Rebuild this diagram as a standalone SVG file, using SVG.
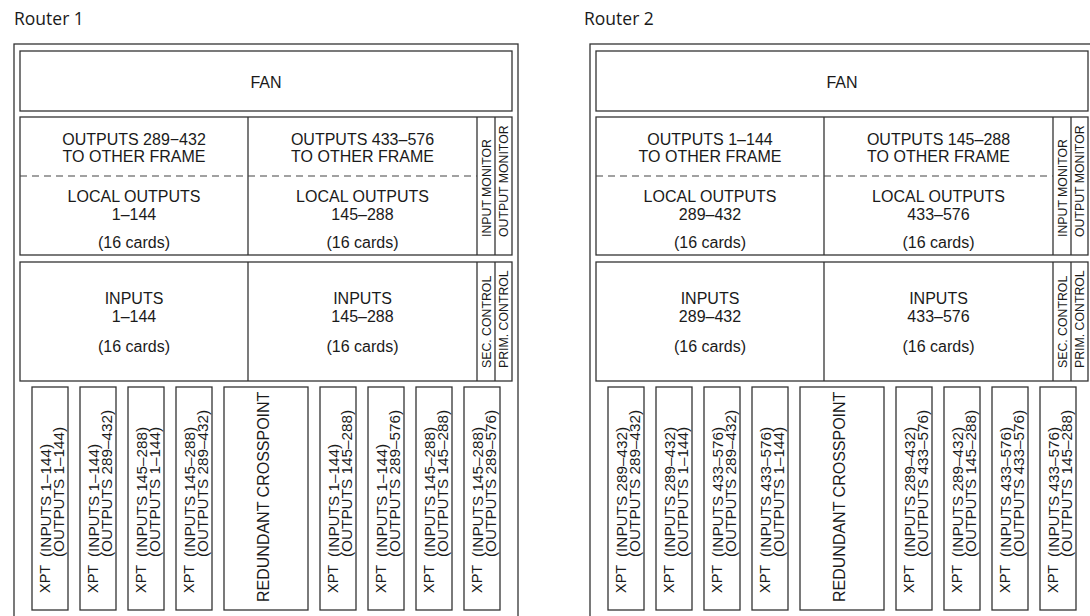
<svg xmlns="http://www.w3.org/2000/svg" width="1090" height="616" viewBox="0 0 1090 616">
<style>
.bg{fill:#ffffff}
.box{fill:#ffffff;stroke:#333333;stroke-width:1.3}
.ln{stroke:#333333;stroke-width:1.3;fill:none}
.dash{stroke:#444444;stroke-width:1.2;stroke-dasharray:7 5;fill:none}
.t{font-family:"Liberation Sans",Arial,sans-serif;font-size:16px;fill:#1a1a1a;text-anchor:middle}
.r{font-family:"Liberation Sans",Arial,sans-serif;font-size:16px;fill:#1a1a1a;text-anchor:start}
.v{font-family:"Liberation Sans",Arial,sans-serif;font-size:15.3px;fill:#1a1a1a;text-anchor:start}
.x{font-family:"Liberation Sans",Arial,sans-serif;font-size:14.5px;fill:#1a1a1a;text-anchor:start}
.s{font-family:"Liberation Sans",Arial,sans-serif;font-size:12.3px;fill:#1a1a1a;text-anchor:start}
.title{font-family:"Open Sans","Noto Sans",sans-serif;font-size:17.5px;fill:#1a1a1a}
</style>
<rect class="bg" x="0" y="0" width="1090" height="616"/>

<g id="router1">
  <text class="title" x="14" y="25">Router 1</text>
  <rect id="r1-frame" class="box" x="14" y="44" width="504" height="600"/>
  <g id="r1-fan">
    <rect class="box" x="20" y="51" width="492" height="60"/>
    <text class="t" x="266" y="88">FAN</text>
  </g>
  <g id="r1-outputs">
    <rect class="box" x="20" y="117" width="492" height="138"/>
    <line class="ln" x1="248" y1="117" x2="248" y2="255"/>
    <line class="ln" x1="477" y1="117" x2="477" y2="255"/>
    <line class="ln" x1="495" y1="117" x2="495" y2="255"/>
    <line class="dash" x1="20" y1="176" x2="477" y2="176"/>
    <text class="t" x="134" y="145">OUTPUTS 289−432</text>
    <text class="t" x="134" y="162">TO OTHER FRAME</text>
    <text class="t" x="134" y="202">LOCAL OUTPUTS</text>
    <text class="t" x="134" y="220">1–144</text>
    <text class="t" x="134" y="248">(16 cards)</text>
    <text class="t" x="362.5" y="145">OUTPUTS 433–576</text>
    <text class="t" x="362.5" y="162">TO OTHER FRAME</text>
    <text class="t" x="362.5" y="202">LOCAL OUTPUTS</text>
    <text class="t" x="362.5" y="220">145–288</text>
    <text class="t" x="362.5" y="248">(16 cards)</text>
    <text class="s" transform="translate(490.5,237) rotate(-90)">INPUT MONITOR</text>
    <text class="s" transform="translate(508.3,237) rotate(-90)">OUTPUT MONITOR</text>
  </g>
  <g id="r1-inputs">
    <rect class="box" x="20" y="262" width="492" height="119"/>
    <line class="ln" x1="248" y1="262" x2="248" y2="381"/>
    <line class="ln" x1="477" y1="262" x2="477" y2="381"/>
    <line class="ln" x1="495" y1="262" x2="495" y2="381"/>
    <text class="t" x="134" y="304">INPUTS</text>
    <text class="t" x="134" y="322">1–144</text>
    <text class="t" x="134" y="352">(16 cards)</text>
    <text class="t" x="362.5" y="304">INPUTS</text>
    <text class="t" x="362.5" y="322">145–288</text>
    <text class="t" x="362.5" y="352">(16 cards)</text>
    <text class="s" transform="translate(490.5,368) rotate(-90)">SEC. CONTROL</text>
    <text class="s" transform="translate(508.3,368) rotate(-90)">PRIM. CONTROL</text>
  </g>
  <g id="r1-xpt1">
    <rect class="box" x="32" y="387" width="36" height="223"/>
    <text class="x" transform="translate(50,593) rotate(-90)">XPT</text>
    <text class="v" transform="translate(51,557) rotate(-90)">(INPUTS 1–144)</text>
    <text class="v" transform="translate(63.5,557) rotate(-90)">(OUTPUTS 1–144)</text>
  </g>
  <g id="r1-xpt2">
    <rect class="box" x="80" y="387" width="36" height="223"/>
    <text class="x" transform="translate(98,593) rotate(-90)">XPT</text>
    <text class="v" transform="translate(99,557) rotate(-90)">(INPUTS 1–144)</text>
    <text class="v" transform="translate(111.5,557) rotate(-90)">(OUTPUTS 289–432)</text>
  </g>
  <g id="r1-xpt3">
    <rect class="box" x="128" y="387" width="36" height="223"/>
    <text class="x" transform="translate(146,593) rotate(-90)">XPT</text>
    <text class="v" transform="translate(147,557) rotate(-90)">(INPUTS 145–288)</text>
    <text class="v" transform="translate(159.5,557) rotate(-90)">(OUTPUTS 1–144)</text>
  </g>
  <g id="r1-xpt4">
    <rect class="box" x="176" y="387" width="36" height="223"/>
    <text class="x" transform="translate(194,593) rotate(-90)">XPT</text>
    <text class="v" transform="translate(195,557) rotate(-90)">(INPUTS 145–288)</text>
    <text class="v" transform="translate(207.5,557) rotate(-90)">(OUTPUTS 289–432)</text>
  </g>
  <g id="r1-redundant">
    <rect class="box" x="224" y="387" width="84" height="223"/>
    <text class="r" transform="translate(269,602) rotate(-90)">REDUNDANT CROSSPOINT</text>
  </g>
  <g id="r1-xpt5">
    <rect class="box" x="320" y="387" width="36" height="223"/>
    <text class="x" transform="translate(338,593) rotate(-90)">XPT</text>
    <text class="v" transform="translate(339,557) rotate(-90)">(INPUTS 1–144)</text>
    <text class="v" transform="translate(351.5,557) rotate(-90)">(OUTPUTS 145–288)</text>
  </g>
  <g id="r1-xpt6">
    <rect class="box" x="368" y="387" width="36" height="223"/>
    <text class="x" transform="translate(386,593) rotate(-90)">XPT</text>
    <text class="v" transform="translate(387,557) rotate(-90)">(INPUTS 1–144)</text>
    <text class="v" transform="translate(399.5,557) rotate(-90)">(OUTPUTS 289–576)</text>
  </g>
  <g id="r1-xpt7">
    <rect class="box" x="416" y="387" width="36" height="223"/>
    <text class="x" transform="translate(434,593) rotate(-90)">XPT</text>
    <text class="v" transform="translate(435,557) rotate(-90)">(INPUTS 145–288)</text>
    <text class="v" transform="translate(447.5,557) rotate(-90)">(OUTPUTS 145–288)</text>
  </g>
  <g id="r1-xpt8">
    <rect class="box" x="464" y="387" width="36" height="223"/>
    <text class="x" transform="translate(482,593) rotate(-90)">XPT</text>
    <text class="v" transform="translate(483,557) rotate(-90)">(INPUTS 145–288)</text>
    <text class="v" transform="translate(495.5,557) rotate(-90)">(OUTPUTS 289–576)</text>
  </g>
</g>

<g id="router2">
  <text class="title" x="584" y="25">Router 2</text>
  <g transform="translate(576,0)">
  <rect id="r2-frame" class="box" x="14" y="44" width="504" height="600"/>
  <g id="r2-fan">
    <rect class="box" x="20" y="51" width="492" height="60"/>
    <text class="t" x="266" y="88">FAN</text>
  </g>
  <g id="r2-outputs">
    <rect class="box" x="20" y="117" width="492" height="138"/>
    <line class="ln" x1="248" y1="117" x2="248" y2="255"/>
    <line class="ln" x1="477" y1="117" x2="477" y2="255"/>
    <line class="ln" x1="495" y1="117" x2="495" y2="255"/>
    <line class="dash" x1="20" y1="176" x2="477" y2="176"/>
    <text class="t" x="134" y="145">OUTPUTS 1–144</text>
    <text class="t" x="134" y="162">TO OTHER FRAME</text>
    <text class="t" x="134" y="202">LOCAL OUTPUTS</text>
    <text class="t" x="134" y="220">289–432</text>
    <text class="t" x="134" y="248">(16 cards)</text>
    <text class="t" x="362.5" y="145">OUTPUTS 145–288</text>
    <text class="t" x="362.5" y="162">TO OTHER FRAME</text>
    <text class="t" x="362.5" y="202">LOCAL OUTPUTS</text>
    <text class="t" x="362.5" y="220">433–576</text>
    <text class="t" x="362.5" y="248">(16 cards)</text>
    <text class="s" transform="translate(490.5,237) rotate(-90)">INPUT MONITOR</text>
    <text class="s" transform="translate(508.3,237) rotate(-90)">OUTPUT MONITOR</text>
  </g>
  <g id="r2-inputs">
    <rect class="box" x="20" y="262" width="492" height="119"/>
    <line class="ln" x1="248" y1="262" x2="248" y2="381"/>
    <line class="ln" x1="477" y1="262" x2="477" y2="381"/>
    <line class="ln" x1="495" y1="262" x2="495" y2="381"/>
    <text class="t" x="134" y="304">INPUTS</text>
    <text class="t" x="134" y="322">289–432</text>
    <text class="t" x="134" y="352">(16 cards)</text>
    <text class="t" x="362.5" y="304">INPUTS</text>
    <text class="t" x="362.5" y="322">433–576</text>
    <text class="t" x="362.5" y="352">(16 cards)</text>
    <text class="s" transform="translate(490.5,368) rotate(-90)">SEC. CONTROL</text>
    <text class="s" transform="translate(508.3,368) rotate(-90)">PRIM. CONTROL</text>
  </g>
  <g id="r2-xpt1">
    <rect class="box" x="32" y="387" width="36" height="223"/>
    <text class="x" transform="translate(50,593) rotate(-90)">XPT</text>
    <text class="v" transform="translate(51,557) rotate(-90)">(INPUTS 289–432)</text>
    <text class="v" transform="translate(63.5,557) rotate(-90)">(OUTPUTS 289–432)</text>
  </g>
  <g id="r2-xpt2">
    <rect class="box" x="80" y="387" width="36" height="223"/>
    <text class="x" transform="translate(98,593) rotate(-90)">XPT</text>
    <text class="v" transform="translate(99,557) rotate(-90)">(INPUTS 289–432)</text>
    <text class="v" transform="translate(111.5,557) rotate(-90)">(OUTPUTS 1–144)</text>
  </g>
  <g id="r2-xpt3">
    <rect class="box" x="128" y="387" width="36" height="223"/>
    <text class="x" transform="translate(146,593) rotate(-90)">XPT</text>
    <text class="v" transform="translate(147,557) rotate(-90)">(INPUTS 433–576)</text>
    <text class="v" transform="translate(159.5,557) rotate(-90)">(OUTPUTS 289–432)</text>
  </g>
  <g id="r2-xpt4">
    <rect class="box" x="176" y="387" width="36" height="223"/>
    <text class="x" transform="translate(194,593) rotate(-90)">XPT</text>
    <text class="v" transform="translate(195,557) rotate(-90)">(INPUTS 433–576)</text>
    <text class="v" transform="translate(207.5,557) rotate(-90)">(OUTPUTS 1–144)</text>
  </g>
  <g id="r2-redundant">
    <rect class="box" x="224" y="387" width="84" height="223"/>
    <text class="r" transform="translate(269,602) rotate(-90)">REDUNDANT CROSSPOINT</text>
  </g>
  <g id="r2-xpt5">
    <rect class="box" x="320" y="387" width="36" height="223"/>
    <text class="x" transform="translate(338,593) rotate(-90)">XPT</text>
    <text class="v" transform="translate(339,557) rotate(-90)">(INPUTS 289–432)</text>
    <text class="v" transform="translate(351.5,557) rotate(-90)">(OUTPUTS 433–576)</text>
  </g>
  <g id="r2-xpt6">
    <rect class="box" x="368" y="387" width="36" height="223"/>
    <text class="x" transform="translate(386,593) rotate(-90)">XPT</text>
    <text class="v" transform="translate(387,557) rotate(-90)">(INPUTS 289–432)</text>
    <text class="v" transform="translate(399.5,557) rotate(-90)">(OUTPUTS 145–288)</text>
  </g>
  <g id="r2-xpt7">
    <rect class="box" x="416" y="387" width="36" height="223"/>
    <text class="x" transform="translate(434,593) rotate(-90)">XPT</text>
    <text class="v" transform="translate(435,557) rotate(-90)">(INPUTS 433–576)</text>
    <text class="v" transform="translate(447.5,557) rotate(-90)">(OUTPUTS 433–576)</text>
  </g>
  <g id="r2-xpt8">
    <rect class="box" x="464" y="387" width="36" height="223"/>
    <text class="x" transform="translate(482,593) rotate(-90)">XPT</text>
    <text class="v" transform="translate(483,557) rotate(-90)">(INPUTS 433–576)</text>
    <text class="v" transform="translate(495.5,557) rotate(-90)">(OUTPUTS 145–288)</text>
  </g>
  </g>
</g>
</svg>
